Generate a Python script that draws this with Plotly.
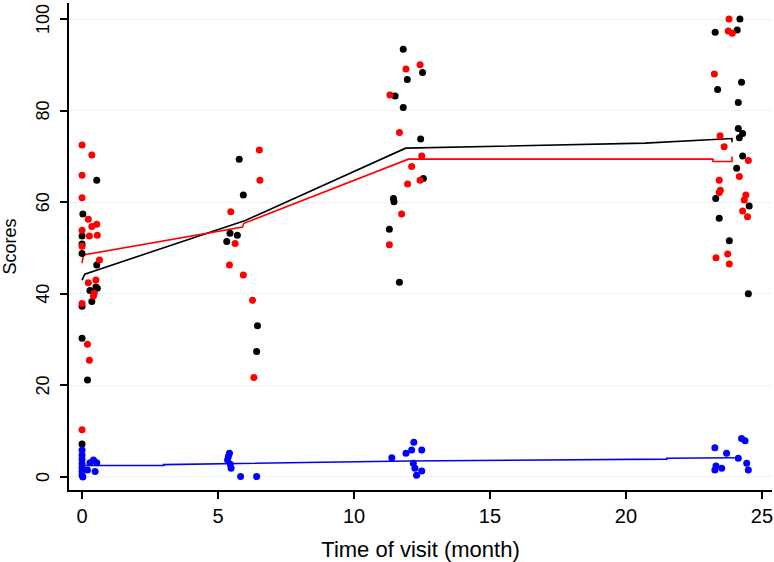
"""
Scores by time of visit: jittered points with fitted lines
"""

import plotly.graph_objects as go

# black group
black_x = [0.54, 0.03, 0.0, 0.0, 0.0, 0.54, 0.51, 0.56, 0.29, 0.36, 0.0, 0.0, 0.2, 0.0,
           5.78, 5.93, 5.32, 5.71, 5.44, 6.45, 6.42,
           11.81, 12.52, 11.96, 11.51, 11.81, 12.45, 12.55, 11.45, 11.47, 11.3, 11.67,
           24.19, 24.09, 23.28, 24.25, 23.37, 24.13, 24.13, 24.29, 24.17, 24.29, 24.07,
           23.3, 24.53, 23.43, 23.8, 24.5]
black_y = [64.8, 57.4, 52.6, 50.9, 48.8, 46.3, 41.5, 41.2, 40.7, 38.3, 37.3, 30.3, 21.2, 7.2,
           69.4, 61.6, 51.4, 52.8, 53.2, 33.0, 27.4,
           93.4, 88.3, 86.8, 83.2, 80.7, 73.8, 65.2, 60.8, 60.1, 54.1, 42.5,
           100.0, 97.6, 97.1, 86.2, 84.6, 81.8, 76.1, 75.0, 74.1, 70.1, 67.4,
           60.8, 59.2, 56.5, 51.6, 40.0]

# red group
red_x = [0.0, 0.36, 0.0, 0.0, 0.23, 0.0, 0.36, 0.54, 0.27, 0.56, 0.0, 0.64, 0.23, 0.51,
         0.45, 0.42, 0.0, 0.2, 0.27, 0.0,
         6.52, 6.54, 5.47, 5.63, 5.42, 5.93, 6.27, 6.32,
         11.91, 12.43, 11.32, 11.67, 12.49, 12.12, 11.97, 12.43, 11.75, 11.3,
         23.79, 23.76, 23.91, 23.25, 23.46, 23.61, 24.5, 24.17, 23.43, 23.47, 23.43,
         24.41, 24.35, 24.29, 24.47, 23.74, 23.31, 23.8]
red_y = [72.5, 70.3, 65.9, 61.0, 56.3, 53.9, 54.7, 55.2, 52.6, 52.8, 50.4, 47.4, 42.4, 43.0,
         40.1, 39.5, 37.9, 29.0, 25.5, 10.3,
         71.4, 64.8, 57.9, 51.0, 46.3, 44.1, 38.6, 21.7,
         89.1, 90.0, 83.4, 75.2, 70.1, 67.8, 64.0, 64.8, 57.4, 50.7,
         100.0, 97.4, 96.9, 88.0, 74.5, 72.1, 69.1, 65.6, 64.8, 62.6, 62.1,
         61.6, 60.5, 58.1, 56.8, 48.7, 47.9, 46.5]

# blue group
blue_x = [0.0, 0.0, 0.0, 0.0, 0.0, 0.0, 0.0, 0.03, 0.29, 0.54, 0.48, 0.2, 0.42,
          5.42, 5.38, 5.35, 5.45, 5.48, 5.83, 6.42,
          12.2, 12.12, 12.49, 11.91, 11.39, 12.18, 12.24, 12.49, 12.3,
          23.27, 24.25, 24.38, 23.7, 24.13, 24.44, 23.31, 23.27, 23.52, 24.5]
blue_y = [5.9, 4.8, 3.8, 2.9, 2.0, 1.2, 0.4, 0.0, 3.1, 3.1, 1.2, 1.5, 3.7,
          5.2, 4.5, 3.7, 2.8, 1.9, 0.1, 0.1,
          7.6, 5.9, 5.9, 5.2, 4.2, 3.0, 1.9, 1.3, 0.4,
          6.4, 8.4, 7.9, 5.2, 4.1, 3.0, 2.4, 1.5, 1.9, 1.5]

# fitted lines
black_line_x = [0.0, 0.1, 6.0, 11.9, 20.7, 22.4, 23.9, 23.9]
black_line_y = [43.0, 44.3, 56.0, 71.8, 72.9, 73.5, 73.9, 73.1]
red_line_x = [0.0, 0.05, 5.9, 5.95, 12.0, 23.2, 23.2, 23.9, 23.9]
red_line_y = [46.7, 48.5, 54.6, 55.4, 69.4, 69.4, 68.9, 68.9, 70.0]
blue_line_x = [0.0, 3.0, 3.0, 12.0, 21.5, 21.5, 24.0]
blue_line_y = [2.5, 2.5, 2.7, 3.5, 3.9, 4.1, 4.2]

x_ticks = [0, 5, 10, 15, 20, 25]
y_ticks = [0, 20, 40, 60, 80, 100]

FONT = "Liberation Sans, Arial, sans-serif"

fig = go.Figure()

for lx, ly, col in [(black_line_x, black_line_y, "black"),
                    (red_line_x, red_line_y, "#ff0000"),
                    (blue_line_x, blue_line_y, "#0000ff")]:
    fig.add_trace(go.Scatter(x=lx, y=ly, mode="lines",
                             line=dict(color=col, width=1.6), showlegend=False))

for px_, py_, col in [(black_x, black_y, "black"),
                      (red_x, red_y, "#ff0000"),
                      (blue_x, blue_y, "#0000ff")]:
    fig.add_trace(go.Scatter(x=px_, y=py_, mode="markers",
                             marker=dict(color=col, size=7), showlegend=False))

# y tick labels: vertical text, set a bit further from the axis than plotly puts them
for v in y_ticks:
    fig.add_annotation(x=0, xref="paper", y=v, yref="y", text=str(v),
                       textangle=-90, showarrow=False, xanchor="center",
                       yanchor="middle", xshift=-26, font=dict(size=18))

fig.update_layout(
    width=774, height=562,
    margin=dict(l=69, r=2, t=3, b=72),
    paper_bgcolor="white", plot_bgcolor="white",
    font=dict(family=FONT, size=18, color="black"),
)
fig.update_xaxes(
    range=[-0.48, 25.37], tickvals=x_ticks, automargin=False,
    showgrid=False, zeroline=False,
    showline=True, linecolor="black", linewidth=1.5,
    ticks="outside", ticklen=7, tickwidth=1.5, tickcolor="black",
    tickfont=dict(size=20),
    title=dict(text="Time of visit (month)", standoff=16, font=dict(size=22)),
)
fig.update_yaxes(
    range=[-2.84, 103.5], tickvals=y_ticks, showticklabels=False, automargin=False,
    showgrid=True, gridcolor="#eaf2f3", gridwidth=1.2, zeroline=False,
    showline=True, linecolor="black", linewidth=1.5,
    ticks="outside", ticklen=7, tickwidth=1.5, tickcolor="black",
    title=dict(text="Scores", standoff=40, font=dict(size=18)),
)

# the page body has a default 8px margin; drop it so the figure sits at 0,0
fig.write_html("out.html", config={"displayModeBar": False},
               post_script="document.body.style.margin='0';")
